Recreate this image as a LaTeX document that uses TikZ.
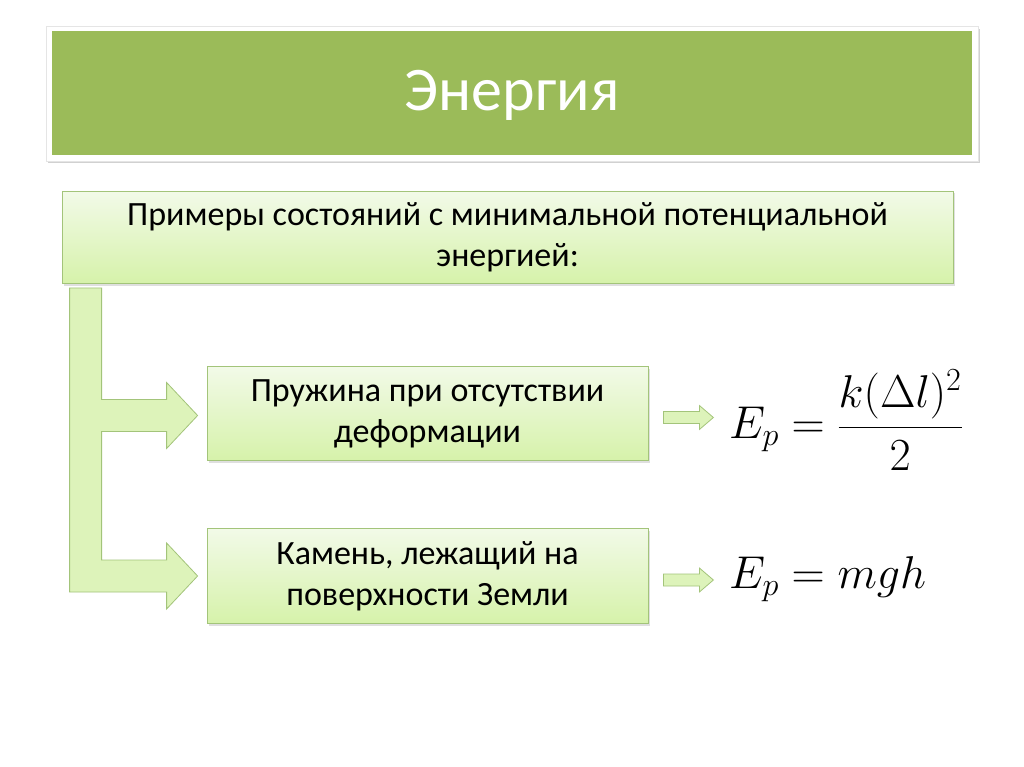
\RequirePackage{fix-cm}
\documentclass[tikz,border=0pt]{standalone}
\usepackage{fontspec}
\setmainfont{Carlito}
\usepackage{amsmath}
\usetikzlibrary{calc,shadows}

\definecolor{titlegreen}{HTML}{9BBB59}
\definecolor{boxtop}{HTML}{F2FAE8}
\definecolor{boxbottom}{HTML}{D6F2AA}
\definecolor{boxline}{HTML}{A3C47A}
\definecolor{arrowfill}{HTML}{DDF3BA}

\tikzset{
  exbox/.style={draw=boxline, line width=0.8pt, top color=boxtop, bottom color=boxbottom,
    drop shadow={opacity=0.25, shadow xshift=2pt, shadow yshift=-2pt},
    align=center, inner sep=0pt, font=\fontsize{34}{41}\selectfont},
  blockarrow/.style={draw=boxline, line width=0.8pt, fill=arrowfill, line join=miter},
  formula/.style={anchor=west, inner sep=0pt, font=\fontsize{46}{52}\selectfont},
}

\begin{document}
\begin{tikzpicture}[x=1pt,y=-1pt]
\useasboundingbox (0,0) rectangle (1024,767);
\fill[white] (0,0) rectangle (1024,767);

% title bar
\fill[black!18] (48,29) rectangle (980,163);
\filldraw[white, draw=black!10] (46,26) rectangle (978,161);
\fill[titlegreen] (52,31) rectangle (972,155);
\node[text=white, font=\fontsize{62}{70}\selectfont] (title) at (512,95) {Энергия};

% boxes
\node[exbox, minimum width=891pt, minimum height=92pt] (examples) at (507.5,237.5)
  {Примеры состояний с минимальной потенциальной\\энергией:};
\node[exbox, minimum width=441pt, minimum height=94pt] (spring) at (427.5,413.5)
  {Пружина при отсутствии\\деформации};
\node[exbox, minimum width=441pt, minimum height=95pt] (stone) at (427.5,576)
  {Камень, лежащий на\\поверхности Земли};

% big bent arrow
\coordinate (barL) at ([xshift=8pt,yshift=-4pt]examples.south west);
\coordinate (barR) at ([xshift=40pt,yshift=-4pt]examples.south west);
\coordinate (tipA) at ([xshift=-9pt,yshift=-2pt]spring.west);
\coordinate (tipB) at ([xshift=-9pt]stone.west);
\filldraw[blockarrow] (barL) -- (barR) |- ($(tipA)+(-31,-16)$) -- ++(0,-17) -- (tipA)
  -- ($(tipA)+(-31,33)$) -- ++(0,-17) -| ($(tipB)+(-96,-16)$)
  -- ($(tipB)+(-31,-16)$) -- ++(0,-17) -- (tipB)
  -- ($(tipB)+(-31,33)$) -- ++(0,-17) -| (barL) -- cycle;

% formulas
\node[formula] (fspring) at (729,420) {$E_p = \dfrac{k(\Delta l)^2}{2}$};
\node[formula] (fstone) at (729,579) {$E_p = mgh$};

% small arrows
\coordinate (arrA) at ([xshift=15pt,yshift=-4pt]spring.east);
\coordinate (arrB) at ([xshift=15pt,yshift=-4pt]stone.east);
\foreach \a in {arrA,arrB}
  \filldraw[blockarrow] (\a) ++(0,-6) -- ++(36,0) -- ++(0,-6) -- ++(14,12)
    -- ++(-14,12) -- ++(0,-6) -- ++(-36,0) -- cycle;
\end{tikzpicture}
\end{document}
